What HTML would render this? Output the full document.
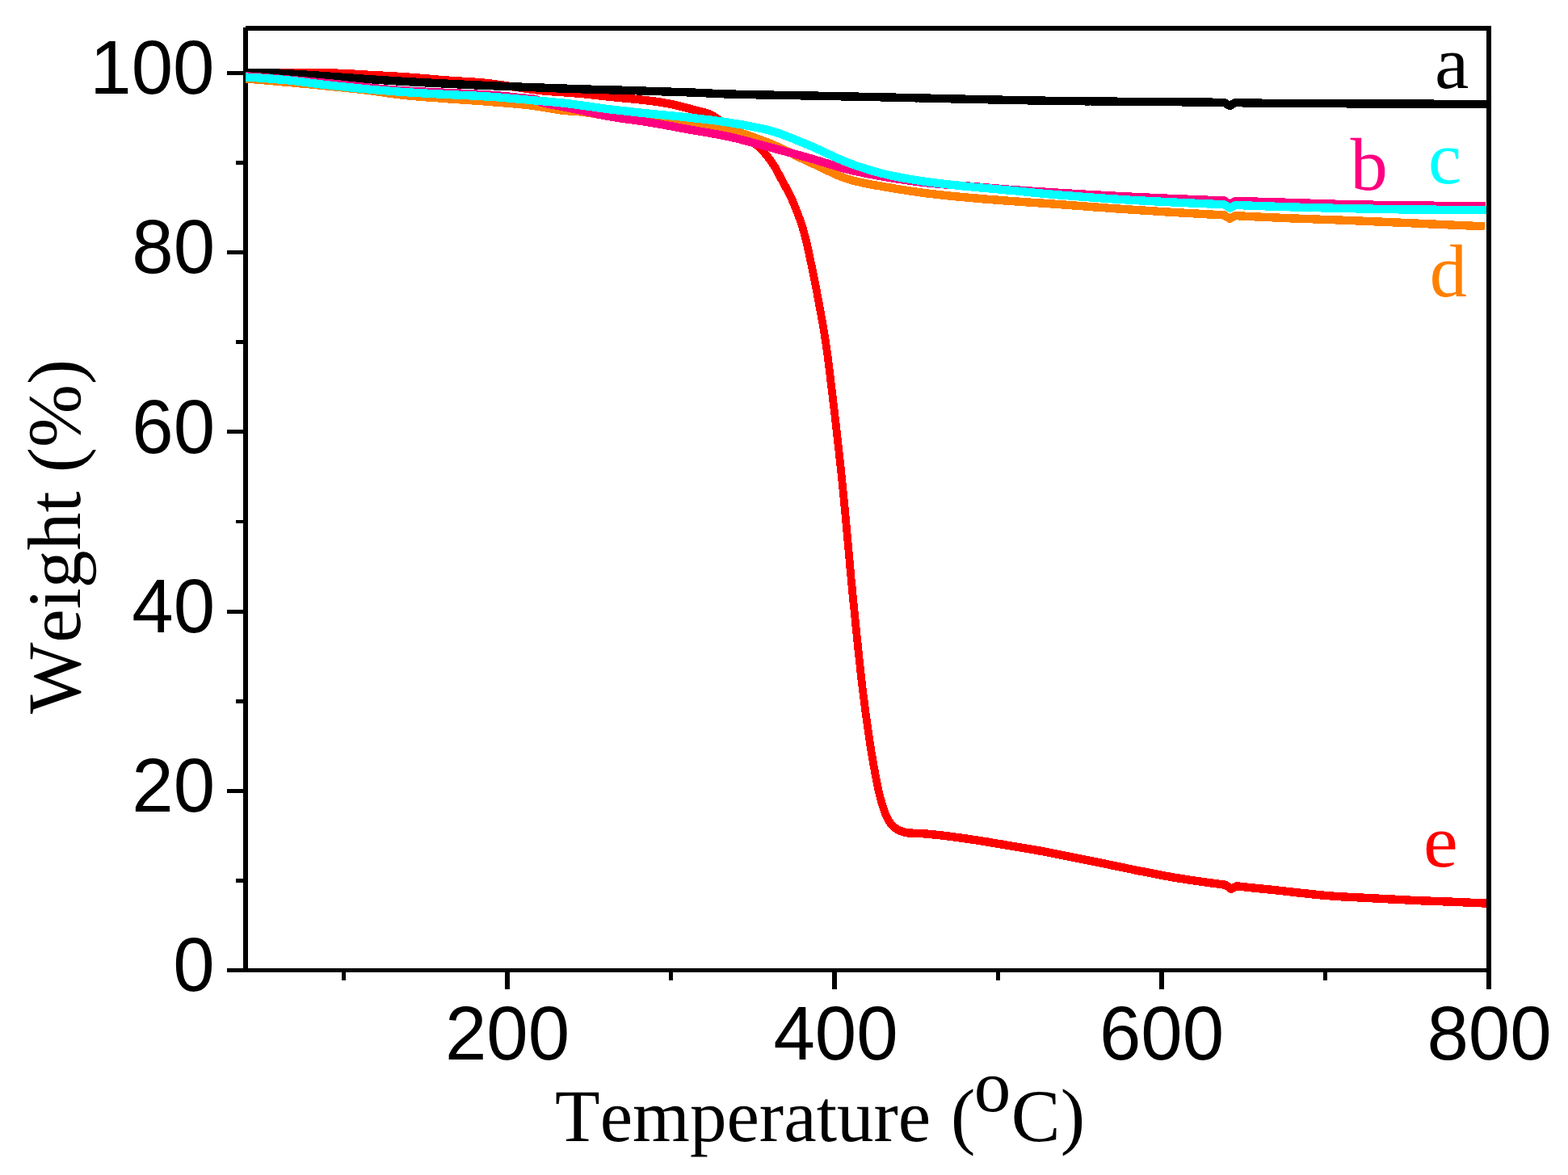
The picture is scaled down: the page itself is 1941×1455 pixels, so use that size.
<!DOCTYPE html>
<html lang="en"><head><meta charset="utf-8"><title>TGA curves</title>
<style>
html,body{margin:0;padding:0;background:#fff;}
body{width:1941px;height:1455px;overflow:hidden;position:relative;}
svg{position:absolute;left:0;top:0;display:block;}
text{font-kerning:none;font-variant-ligatures:none;text-rendering:geometricPrecision;}
.tk{font-family:"Liberation Sans",Arial,sans-serif;}
.ti{font-family:"Liberation Serif","Times New Roman",serif;}
.cv{fill:none;stroke-width:10.4;stroke-linejoin:round;stroke-linecap:butt;}
</style></head><body>
<svg width="1941" height="1455" viewBox="0 0 1941 1455">
<rect x="0" y="0" width="1941" height="1455" fill="#fff"/>

<g fill="#000" shape-rendering="crispEdges">
<rect x="300.90" y="33.90" width="6.00" height="1170.00"/>
<rect x="304.00" y="32.10" width="1542.10" height="5.70"/>
<rect x="300.90" y="1199.10" width="1545.20" height="4.80"/>
<rect x="281.10" y="1199.05" width="20.80" height="4.90"/>
<rect x="292.00" y="1087.94" width="9.90" height="4.90"/>
<rect x="281.10" y="976.84" width="20.80" height="4.90"/>
<rect x="292.00" y="865.73" width="9.90" height="4.90"/>
<rect x="281.10" y="754.63" width="20.80" height="4.90"/>
<rect x="292.00" y="643.52" width="9.90" height="4.90"/>
<rect x="281.10" y="532.42" width="20.80" height="4.90"/>
<rect x="292.00" y="421.31" width="9.90" height="4.90"/>
<rect x="281.10" y="310.21" width="20.80" height="4.90"/>
<rect x="292.00" y="199.10" width="9.90" height="4.90"/>
<rect x="281.10" y="88.00" width="20.80" height="4.90"/>
<rect x="422.55" y="1202.90" width="5.90" height="11.30"/>
<rect x="625.05" y="1202.90" width="5.90" height="22.10"/>
<rect x="827.55" y="1202.90" width="5.90" height="11.30"/>
<rect x="1030.05" y="1202.90" width="5.90" height="22.10"/>
<rect x="1232.55" y="1202.90" width="5.90" height="11.30"/>
<rect x="1435.05" y="1202.90" width="5.90" height="22.10"/>
<rect x="1637.55" y="1202.90" width="5.90" height="11.30"/>
<rect x="1840.05" y="1202.90" width="5.90" height="22.10"/>
</g>
<defs><clipPath id="cp"><rect x="304.0" y="0" width="1536.5" height="1455"/></clipPath></defs>
<g clip-path="url(#cp)"><g class="cv" shape-rendering="crispEdges" transform="scale(0.94,1)">
<path d="M323.4,90.4 L328.2,90.4 L333.1,90.4 L337.9,90.4 L342.7,90.4 L347.5,90.4 L352.4,90.4 L357.2,90.4 L362.0,90.4 L366.8,90.4 L371.7,90.4 L376.5,90.4 L381.3,90.4 L386.2,90.4 L391.0,90.4 L395.8,90.4 L400.6,90.4 L405.5,90.4 L410.3,90.4 L415.1,90.4 L419.9,90.4 L424.8,90.4 L429.6,90.4 L434.4,90.5 L439.2,90.6 L444.1,90.7 L448.9,90.9 L453.7,91.1 L458.5,91.3 L463.3,91.5 L468.2,91.8 L473.0,92.1 L477.8,92.4 L482.6,92.6 L487.4,92.9 L492.3,93.1 L497.1,93.4 L501.9,93.6 L506.7,93.8 L511.5,94.1 L516.4,94.3 L521.2,94.6 L526.0,94.8 L530.8,95.1 L535.6,95.4 L540.4,95.8 L545.3,96.1 L550.1,96.5 L554.9,96.9 L559.7,97.2 L564.5,97.6 L569.3,98.0 L574.1,98.4 L578.9,98.8 L583.7,99.1 L588.5,99.5 L593.4,99.8 L598.2,100.1 L603.0,100.4 L607.8,100.7 L612.6,101.0 L617.5,101.2 L622.3,101.5 L627.1,101.9 L631.9,102.2 L636.7,102.6 L641.5,103.0 L646.3,103.5 L651.1,104.1 L655.9,104.8 L660.6,105.4 L665.4,106.0 L670.2,106.7 L675.0,107.3 L679.8,107.9 L684.6,108.5 L689.3,109.2 L694.1,109.8 L698.9,110.5 L703.7,111.1 L708.5,111.7 L713.2,112.2 L718.0,112.6 L722.8,113.0 L727.7,113.4 L732.5,113.7 L737.3,114.0 L742.1,114.3 L746.9,114.6 L751.7,114.9 L756.6,115.3 L761.4,115.6 L766.2,116.0 L771.0,116.5 L775.8,116.9 L780.6,117.5 L785.4,118.0 L790.2,118.5 L795.0,119.0 L799.8,119.5 L804.6,120.0 L809.4,120.4 L814.2,120.8 L819.0,121.3 L823.8,121.7 L828.6,122.1 L833.4,122.5 L838.2,122.9 L843.0,123.4 L847.8,123.9 L852.6,124.4 L857.4,125.0 L862.2,125.6 L867.0,126.2 L871.7,126.9 L876.5,127.7 L881.2,128.5 L886.0,129.4 L890.7,130.4 L895.3,131.5 L900.0,132.6 L904.7,133.8 L909.4,134.9 L914.1,136.1 L918.8,137.2 L923.5,138.3 L928.2,139.5 L932.7,140.9 L937.1,142.6 L941.2,144.9 L945.2,147.5 L949.2,150.1 L953.4,152.5 L957.6,154.7 L961.8,156.9 L966.0,159.2 L970.1,161.5 L974.3,163.8 L978.3,166.2 L982.3,168.9 L986.1,171.6 L989.9,174.4 L993.7,177.3 L997.3,180.3 L1000.9,183.3 L1004.2,186.6 L1007.4,189.9 L1010.5,193.5 L1013.5,197.1 L1016.3,200.8 L1018.9,204.5 L1021.4,208.4 L1023.7,212.4 L1026.0,216.4 L1028.2,220.5 L1030.5,224.5 L1032.8,228.5 L1035.1,232.4 L1037.5,236.4 L1039.7,240.5 L1041.7,244.6 L1043.7,248.7 L1045.5,252.9 L1047.4,257.1 L1049.2,261.3 L1050.9,265.5 L1052.6,269.8 L1054.2,274.1 L1055.7,278.4 L1057.2,282.7 L1058.5,287.1 L1059.8,291.4 L1061.0,295.8 L1062.2,300.2 L1063.3,304.6 L1064.3,309.1 L1065.3,313.5 L1066.3,318.0 L1067.3,322.4 L1068.3,326.9 L1069.3,331.3 L1070.3,335.7 L1071.3,340.2 L1072.2,344.6 L1073.1,349.1 L1074.1,353.5 L1075.0,358.0 L1075.9,362.5 L1076.7,366.9 L1077.6,371.4 L1078.5,375.8 L1079.4,380.3 L1080.3,384.8 L1081.2,389.2 L1082.0,393.7 L1082.9,398.2 L1083.7,402.6 L1084.5,407.1 L1085.3,411.6 L1086.1,416.1 L1086.8,420.5 L1087.5,425.0 L1088.2,429.5 L1088.9,434.0 L1089.6,438.5 L1090.2,443.0 L1090.8,447.5 L1091.4,452.0 L1092.0,456.5 L1092.6,461.0 L1093.2,465.5 L1093.7,470.0 L1094.3,474.5 L1094.9,479.0 L1095.5,483.5 L1096.1,488.0 L1096.6,492.5 L1097.2,497.0 L1097.8,501.5 L1098.4,506.0 L1098.9,510.6 L1099.5,515.1 L1100.0,519.6 L1100.6,524.1 L1101.1,528.6 L1101.7,533.1 L1102.2,537.6 L1102.8,542.1 L1103.3,546.6 L1103.8,551.1 L1104.4,555.6 L1104.9,560.1 L1105.4,564.7 L1105.9,569.2 L1106.5,573.7 L1107.0,578.2 L1107.5,582.7 L1108.0,587.2 L1108.5,591.7 L1109.0,596.2 L1109.4,600.8 L1109.9,605.3 L1110.4,609.8 L1110.9,614.3 L1111.3,618.8 L1111.8,623.3 L1112.3,627.8 L1112.7,632.4 L1113.2,636.9 L1113.6,641.4 L1114.1,645.9 L1114.5,650.4 L1115.0,654.9 L1115.4,659.5 L1115.8,664.0 L1116.3,668.5 L1116.7,673.0 L1117.2,677.5 L1117.6,682.1 L1118.0,686.6 L1118.4,691.1 L1118.9,695.6 L1119.3,700.1 L1119.7,704.7 L1120.2,709.2 L1120.6,713.7 L1121.0,718.2 L1121.5,722.7 L1122.0,727.2 L1122.4,731.8 L1122.9,736.3 L1123.4,740.8 L1123.8,745.3 L1124.3,749.8 L1124.8,754.3 L1125.3,758.8 L1125.8,763.4 L1126.3,767.9 L1126.7,772.4 L1127.2,776.9 L1127.7,781.4 L1128.2,785.9 L1128.7,790.4 L1129.2,795.0 L1129.7,799.5 L1130.2,804.0 L1130.7,808.5 L1131.2,813.0 L1131.7,817.5 L1132.2,822.0 L1132.7,826.5 L1133.2,831.1 L1133.8,835.6 L1134.3,840.1 L1134.9,844.6 L1135.4,849.1 L1136.0,853.6 L1136.6,858.1 L1137.2,862.6 L1137.8,867.1 L1138.4,871.6 L1139.0,876.1 L1139.7,880.6 L1140.3,885.1 L1141.0,889.6 L1141.7,894.1 L1142.3,898.6 L1143.0,903.1 L1143.7,907.5 L1144.4,912.0 L1145.1,916.5 L1145.8,921.0 L1146.6,925.5 L1147.3,930.0 L1148.1,934.5 L1148.9,938.9 L1149.7,943.4 L1150.6,947.9 L1151.4,952.3 L1152.3,956.8 L1153.1,961.3 L1154.1,965.7 L1155.0,970.2 L1156.0,974.6 L1157.0,979.1 L1158.1,983.5 L1159.3,987.9 L1160.6,992.3 L1161.9,996.6 L1163.4,1000.9 L1165.0,1005.2 L1166.8,1009.5 L1168.8,1013.7 L1171.2,1017.5 L1174.2,1021.2 L1177.7,1024.5 L1181.6,1027.2 L1185.8,1029.0 L1190.5,1030.4 L1195.3,1031.3 L1200.0,1031.6 L1204.9,1031.9 L1209.7,1032.0 L1214.6,1032.2 L1219.4,1032.5 L1224.2,1032.9 L1229.0,1033.4 L1233.8,1033.8 L1238.6,1034.3 L1243.4,1034.8 L1248.2,1035.4 L1253.0,1036.0 L1257.8,1036.6 L1262.5,1037.2 L1267.3,1037.8 L1272.1,1038.5 L1276.9,1039.1 L1281.6,1039.8 L1286.4,1040.5 L1291.2,1041.2 L1296.0,1041.9 L1300.7,1042.6 L1305.5,1043.4 L1310.2,1044.1 L1315.0,1044.9 L1319.8,1045.6 L1324.5,1046.4 L1329.3,1047.2 L1334.0,1047.9 L1338.8,1048.6 L1343.6,1049.4 L1348.3,1050.1 L1353.1,1050.9 L1357.8,1051.6 L1362.6,1052.4 L1367.3,1053.2 L1372.1,1054.0 L1376.8,1054.8 L1381.6,1055.7 L1386.3,1056.6 L1391.0,1057.5 L1395.8,1058.4 L1400.5,1059.3 L1405.2,1060.2 L1410.0,1061.1 L1414.7,1062.0 L1419.4,1062.9 L1424.2,1063.8 L1428.9,1064.7 L1433.6,1065.5 L1438.4,1066.4 L1443.1,1067.3 L1447.8,1068.2 L1452.6,1069.1 L1457.3,1070.0 L1462.0,1071.0 L1466.7,1071.9 L1471.5,1072.8 L1476.2,1073.8 L1480.9,1074.7 L1485.6,1075.6 L1490.4,1076.5 L1495.1,1077.4 L1499.8,1078.3 L1504.6,1079.2 L1509.3,1080.0 L1514.0,1080.9 L1518.8,1081.8 L1523.5,1082.7 L1528.3,1083.5 L1533.0,1084.4 L1537.7,1085.2 L1542.5,1086.0 L1547.2,1086.8 L1552.0,1087.5 L1556.8,1088.2 L1561.5,1088.9 L1566.3,1089.6 L1571.1,1090.3 L1575.9,1090.9 L1580.6,1091.6 L1585.4,1092.2 L1590.2,1092.8 L1595.0,1093.4 L1599.8,1094.0 L1604.6,1094.6 L1609.3,1095.2 L1613.8,1095.7 L1614.1,1095.9 L1618.9,1099.2 L1621.3,1100.8 L1623.7,1099.7 L1628.5,1097.4 L1628.7,1097.3 L1633.3,1097.8 L1638.1,1098.3 L1642.9,1098.8 L1647.7,1099.3 L1652.5,1099.7 L1657.3,1100.2 L1662.1,1100.6 L1666.9,1101.0 L1671.7,1101.5 L1676.5,1101.9 L1681.3,1102.4 L1686.1,1102.9 L1690.9,1103.4 L1695.7,1103.9 L1700.5,1104.5 L1705.3,1105.0 L1710.1,1105.5 L1714.9,1106.0 L1719.7,1106.4 L1724.5,1106.9 L1729.3,1107.4 L1734.1,1107.8 L1738.9,1108.3 L1743.7,1108.7 L1748.5,1109.1 L1753.3,1109.5 L1758.2,1109.8 L1763.0,1110.1 L1767.8,1110.4 L1772.6,1110.6 L1777.4,1110.9 L1782.2,1111.1 L1787.1,1111.3 L1791.9,1111.5 L1796.7,1111.8 L1801.5,1112.0 L1806.3,1112.2 L1811.2,1112.5 L1816.0,1112.7 L1820.8,1112.9 L1825.6,1113.2 L1830.4,1113.4 L1835.3,1113.6 L1840.1,1113.9 L1844.9,1114.1 L1849.7,1114.3 L1854.6,1114.6 L1859.4,1114.8 L1864.2,1115.0 L1869.0,1115.2 L1873.8,1115.4 L1878.7,1115.5 L1883.5,1115.7 L1888.3,1115.9 L1893.1,1116.0 L1898.0,1116.2 L1902.8,1116.4 L1907.6,1116.5 L1912.4,1116.7 L1917.2,1116.9 L1922.1,1117.1 L1926.9,1117.3 L1931.7,1117.5 L1936.5,1117.7 L1941.4,1117.9 L1946.2,1118.1 L1951.0,1118.3 L1955.8,1118.6 L1957.1,1118.6" stroke="#ff0000"/>
<path d="M323.4,97.4 L326.7,97.7 L330.0,97.9 L333.3,98.2 L336.6,98.4 L340.0,98.7 L343.3,98.9 L346.6,99.2 L349.9,99.5 L353.2,99.7 L356.5,100.0 L359.8,100.3 L363.1,100.6 L366.4,100.8 L369.7,101.1 L373.0,101.4 L376.3,101.7 L379.7,101.9 L383.0,102.2 L386.3,102.5 L389.6,102.8 L392.9,103.1 L396.2,103.4 L399.5,103.7 L402.8,103.9 L406.1,104.2 L409.4,104.5 L412.7,104.8 L416.0,105.1 L419.3,105.4 L422.6,105.7 L425.9,106.0 L429.2,106.3 L432.5,106.7 L435.9,107.0 L439.2,107.3 L442.5,107.6 L445.8,107.9 L449.1,108.2 L452.4,108.5 L455.7,108.9 L459.0,109.2 L462.3,109.5 L465.6,109.8 L468.9,110.2 L472.2,110.5 L475.5,110.9 L478.8,111.2 L482.1,111.6 L485.4,112.0 L488.7,112.3 L492.0,112.8 L495.3,113.2 L498.5,113.6 L501.8,114.1 L505.1,114.5 L508.4,115.0 L511.7,115.5 L515.0,115.9 L518.3,116.3 L521.6,116.8 L524.9,117.1 L528.2,117.5 L531.5,117.9 L534.8,118.2 L538.1,118.5 L541.4,118.8 L544.7,119.0 L548.0,119.3 L551.3,119.6 L554.6,119.8 L557.9,120.1 L561.2,120.3 L564.5,120.5 L567.8,120.8 L571.2,121.0 L574.5,121.2 L577.8,121.4 L581.1,121.7 L584.4,121.9 L587.7,122.1 L591.0,122.4 L594.3,122.6 L597.7,122.8 L601.0,123.0 L604.3,123.2 L607.6,123.5 L610.9,123.7 L614.2,123.9 L617.5,124.1 L620.9,124.3 L624.2,124.5 L627.5,124.7 L630.8,124.9 L634.1,125.2 L637.4,125.4 L640.7,125.6 L644.0,125.9 L647.3,126.1 L650.7,126.4 L654.0,126.6 L657.3,126.9 L660.6,127.1 L663.9,127.4 L667.2,127.6 L670.5,127.9 L673.8,128.2 L677.1,128.4 L680.5,128.7 L683.8,129.0 L687.1,129.3 L690.4,129.6 L693.7,130.0 L697.0,130.3 L700.3,130.7 L703.5,131.1 L706.8,131.6 L710.1,132.0 L713.4,132.5 L716.7,133.1 L719.9,133.6 L723.2,134.1 L726.5,134.6 L729.8,135.1 L733.1,135.6 L736.4,136.1 L739.6,136.5 L742.9,136.8 L746.2,137.1 L749.5,137.4 L752.9,137.6 L756.2,137.9 L759.5,138.1 L762.8,138.3 L766.1,138.6 L769.4,139.0 L772.7,139.4 L776.0,139.8 L779.3,140.3 L782.5,140.8 L785.8,141.3 L789.1,141.7 L792.4,142.1 L795.7,142.5 L799.0,142.9 L802.3,143.3 L805.6,143.7 L808.9,144.1 L812.2,144.5 L815.5,144.9 L818.8,145.3 L822.1,145.7 L825.3,146.1 L828.6,146.5 L831.9,146.8 L835.2,147.2 L838.5,147.6 L841.8,148.0 L845.1,148.4 L848.4,148.7 L851.7,149.1 L855.0,149.5 L858.3,149.9 L861.6,150.2 L864.9,150.6 L868.2,151.0 L871.5,151.3 L874.8,151.7 L878.1,152.1 L881.4,152.4 L884.7,152.8 L888.0,153.1 L891.3,153.5 L894.6,153.9 L897.9,154.2 L901.2,154.6 L904.5,154.9 L907.8,155.3 L911.1,155.7 L914.4,156.0 L917.7,156.3 L921.0,156.6 L924.3,157.0 L927.7,157.3 L931.0,157.6 L934.3,157.9 L937.6,158.2 L940.9,158.6 L944.2,158.9 L947.5,159.3 L950.8,159.7 L954.0,160.2 L957.3,160.7 L960.5,161.2 L963.7,161.8 L966.9,162.5 L970.2,163.3 L973.4,164.1 L976.6,165.0 L979.7,165.9 L982.9,166.9 L986.1,167.9 L989.3,168.9 L992.4,170.0 L995.6,171.1 L998.7,172.2 L1001.8,173.3 L1004.9,174.4 L1008.0,175.5 L1011.1,176.6 L1014.2,177.7 L1017.3,178.9 L1020.3,180.1 L1023.4,181.3 L1026.4,182.6 L1029.4,183.9 L1032.4,185.3 L1035.4,186.7 L1038.3,188.0 L1041.3,189.4 L1044.3,190.8 L1047.3,192.3 L1050.3,193.7 L1053.2,195.1 L1056.2,196.4 L1059.2,197.8 L1062.2,199.1 L1065.2,200.4 L1068.3,201.7 L1071.3,203.0 L1074.3,204.4 L1077.3,205.7 L1080.4,207.1 L1083.4,208.4 L1086.4,209.8 L1089.4,211.2 L1092.5,212.5 L1095.5,213.8 L1098.5,215.1 L1101.6,216.4 L1104.6,217.6 L1107.7,218.7 L1110.8,219.8 L1113.9,220.9 L1117.0,221.8 L1120.2,222.7 L1123.3,223.6 L1126.5,224.3 L1129.7,225.0 L1132.9,225.7 L1136.2,226.4 L1139.4,227.0 L1142.7,227.6 L1146.0,228.2 L1149.2,228.8 L1152.5,229.4 L1155.8,229.9 L1159.1,230.4 L1162.4,231.0 L1165.7,231.5 L1169.0,232.0 L1172.2,232.5 L1175.5,233.0 L1178.8,233.6 L1182.1,234.1 L1185.3,234.6 L1188.6,235.1 L1191.9,235.5 L1195.2,236.0 L1198.5,236.5 L1201.8,237.0 L1205.0,237.4 L1208.3,237.8 L1211.6,238.3 L1214.9,238.7 L1218.2,239.1 L1221.5,239.5 L1224.8,239.9 L1228.1,240.2 L1231.4,240.6 L1234.7,241.0 L1238.0,241.3 L1241.3,241.6 L1244.6,242.0 L1247.9,242.3 L1251.2,242.6 L1254.5,242.9 L1257.8,243.2 L1261.1,243.5 L1264.4,243.8 L1267.7,244.1 L1271.0,244.4 L1274.3,244.6 L1277.7,244.9 L1281.0,245.2 L1284.3,245.5 L1287.6,245.7 L1290.9,246.0 L1294.2,246.3 L1297.5,246.5 L1300.8,246.8 L1304.1,247.0 L1307.4,247.3 L1310.7,247.5 L1314.1,247.7 L1317.4,248.0 L1320.7,248.2 L1324.0,248.5 L1327.3,248.7 L1330.6,248.9 L1333.9,249.1 L1337.2,249.4 L1340.6,249.6 L1343.9,249.8 L1347.2,250.0 L1350.5,250.2 L1353.8,250.5 L1357.1,250.7 L1360.4,250.9 L1363.7,251.1 L1367.1,251.3 L1370.4,251.5 L1373.7,251.7 L1377.0,251.9 L1380.3,252.1 L1383.6,252.3 L1386.9,252.6 L1390.3,252.8 L1393.6,253.0 L1396.9,253.2 L1400.2,253.5 L1403.5,253.7 L1406.8,253.9 L1410.1,254.2 L1413.4,254.4 L1416.7,254.6 L1420.1,254.9 L1423.4,255.1 L1426.7,255.3 L1430.0,255.6 L1433.3,255.8 L1436.6,256.0 L1439.9,256.3 L1443.2,256.5 L1446.6,256.7 L1449.9,257.0 L1453.2,257.2 L1456.5,257.4 L1459.8,257.7 L1463.1,257.9 L1466.4,258.1 L1469.7,258.3 L1473.1,258.5 L1476.4,258.8 L1479.7,259.0 L1483.0,259.2 L1486.3,259.4 L1489.6,259.6 L1492.9,259.8 L1496.2,260.0 L1499.6,260.2 L1502.9,260.4 L1506.2,260.6 L1509.5,260.8 L1512.8,261.0 L1516.1,261.2 L1519.4,261.4 L1522.8,261.6 L1526.1,261.8 L1529.4,262.0 L1532.7,262.2 L1536.0,262.4 L1539.3,262.6 L1542.6,262.8 L1546.0,262.9 L1549.3,263.1 L1552.6,263.3 L1555.9,263.5 L1559.2,263.7 L1562.5,263.9 L1565.9,264.0 L1569.2,264.2 L1572.5,264.4 L1575.8,264.6 L1579.1,264.7 L1582.4,264.9 L1585.7,265.1 L1589.1,265.3 L1592.4,265.4 L1595.7,265.6 L1599.0,265.8 L1602.3,265.9 L1605.6,266.1 L1609.0,266.3 L1612.0,266.4 L1612.3,266.6 L1615.6,268.5 L1618.9,270.5 L1619.5,270.8 L1622.2,269.4 L1625.5,267.8 L1626.9,267.1 L1628.9,267.2 L1632.2,267.4 L1635.5,267.6 L1638.8,267.7 L1642.1,267.9 L1645.4,268.0 L1648.8,268.2 L1652.1,268.3 L1655.4,268.5 L1658.7,268.6 L1662.0,268.8 L1665.3,268.9 L1668.7,269.1 L1672.0,269.2 L1675.3,269.3 L1678.6,269.5 L1681.9,269.6 L1685.2,269.7 L1688.6,269.9 L1691.9,270.0 L1695.2,270.1 L1698.5,270.3 L1701.8,270.4 L1705.2,270.5 L1708.5,270.6 L1711.8,270.8 L1715.1,270.9 L1718.4,271.0 L1721.7,271.1 L1725.1,271.2 L1728.4,271.3 L1731.7,271.4 L1735.0,271.6 L1738.3,271.7 L1741.7,271.8 L1745.0,271.9 L1748.3,272.0 L1751.6,272.1 L1754.9,272.2 L1758.3,272.3 L1761.6,272.5 L1764.9,272.6 L1768.2,272.7 L1771.5,272.8 L1774.8,272.9 L1778.2,273.1 L1781.5,273.2 L1784.8,273.3 L1788.1,273.4 L1791.4,273.6 L1794.8,273.7 L1798.1,273.8 L1801.4,274.0 L1804.7,274.1 L1808.0,274.2 L1811.3,274.4 L1814.7,274.5 L1818.0,274.6 L1821.3,274.8 L1824.6,274.9 L1827.9,275.0 L1831.3,275.2 L1834.6,275.3 L1837.9,275.5 L1841.2,275.6 L1844.5,275.7 L1847.8,275.9 L1851.2,276.0 L1854.5,276.2 L1857.8,276.3 L1861.1,276.4 L1864.4,276.6 L1867.7,276.7 L1871.1,276.9 L1874.4,277.0 L1877.7,277.1 L1881.0,277.3 L1884.3,277.4 L1887.7,277.5 L1891.0,277.7 L1894.3,277.8 L1897.6,278.0 L1900.9,278.1 L1904.2,278.2 L1907.6,278.4 L1910.9,278.5 L1914.2,278.7 L1917.5,278.8 L1920.8,278.9 L1924.1,279.1 L1927.5,279.2 L1930.8,279.3 L1934.1,279.5 L1937.4,279.6 L1940.7,279.8 L1944.1,279.9 L1947.4,280.0 L1950.7,280.2 L1954.0,280.3 L1955.1,280.4" stroke="#ff8000"/>
<path d="M323.4,90.2 L326.7,90.2 L330.0,90.2 L333.3,90.2 L336.5,90.2 L339.8,90.2 L343.1,90.2 L346.4,90.2 L349.7,90.3 L353.0,90.3 L356.2,90.3 L359.5,90.3 L362.8,90.4 L366.1,90.6 L369.4,90.7 L372.6,90.9 L375.9,91.1 L379.2,91.3 L382.5,91.4 L385.7,91.6 L389.0,91.8 L392.3,92.0 L395.6,92.2 L398.8,92.4 L402.1,92.6 L405.4,92.8 L408.7,93.0 L411.9,93.2 L415.2,93.4 L418.5,93.6 L421.8,93.9 L425.0,94.1 L428.3,94.3 L431.6,94.5 L434.9,94.7 L438.1,94.9 L441.4,95.1 L444.7,95.4 L448.0,95.6 L451.2,95.8 L454.5,96.0 L457.8,96.2 L461.1,96.5 L464.3,96.7 L467.6,96.9 L470.9,97.1 L474.2,97.4 L477.4,97.6 L480.7,97.8 L484.0,98.0 L487.3,98.2 L490.5,98.4 L493.8,98.6 L497.1,98.8 L500.4,99.0 L503.6,99.2 L506.9,99.4 L510.2,99.6 L513.5,99.8 L516.7,100.0 L520.0,100.2 L523.3,100.4 L526.6,100.6 L529.8,100.8 L533.1,101.0 L536.4,101.1 L539.7,101.3 L543.0,101.5 L546.2,101.6 L549.5,101.8 L552.8,102.0 L556.1,102.1 L559.3,102.3 L562.6,102.4 L565.9,102.6 L569.2,102.8 L572.5,102.9 L575.7,103.1 L579.0,103.2 L582.3,103.4 L585.6,103.5 L588.9,103.7 L592.1,103.8 L595.4,104.0 L598.7,104.1 L602.0,104.3 L605.2,104.4 L608.5,104.6 L611.8,104.7 L615.1,104.9 L618.4,105.0 L621.6,105.2 L624.9,105.3 L628.2,105.5 L631.5,105.6 L634.8,105.7 L638.0,105.9 L641.3,106.0 L644.6,106.1 L647.9,106.2 L651.2,106.4 L654.4,106.5 L657.7,106.6 L661.0,106.7 L664.3,106.9 L667.6,107.0 L670.8,107.1 L674.1,107.2 L677.4,107.3 L680.7,107.4 L684.0,107.5 L687.2,107.7 L690.5,107.8 L693.8,107.9 L697.1,108.0 L700.4,108.1 L703.6,108.2 L706.9,108.4 L710.2,108.5 L713.5,108.6 L716.8,108.7 L720.0,108.9 L723.3,109.0 L726.6,109.1 L729.9,109.2 L733.2,109.3 L736.4,109.4 L739.7,109.5 L743.0,109.6 L746.3,109.7 L749.6,109.8 L752.9,109.9 L756.1,110.0 L759.4,110.1 L762.7,110.2 L766.0,110.3 L769.3,110.4 L772.5,110.5 L775.8,110.6 L779.1,110.7 L782.4,110.7 L785.7,110.8 L788.9,110.9 L792.2,111.0 L795.5,111.1 L798.8,111.2 L802.1,111.3 L805.4,111.4 L808.6,111.5 L811.9,111.6 L815.2,111.6 L818.5,111.7 L821.8,111.8 L825.0,111.9 L828.3,112.0 L831.6,112.1 L834.9,112.2 L838.2,112.3 L841.4,112.4 L844.7,112.5 L848.0,112.6 L851.3,112.7 L854.6,112.8 L857.8,112.9 L861.1,113.0 L864.4,113.1 L867.7,113.2 L871.0,113.3 L874.3,113.4 L877.5,113.5 L880.8,113.6 L884.1,113.7 L887.4,113.8 L890.7,113.9 L893.9,114.0 L897.2,114.1 L900.5,114.2 L903.8,114.3 L907.1,114.4 L910.3,114.5 L913.6,114.6 L916.9,114.8 L920.2,114.9 L923.5,115.1 L926.7,115.2 L930.0,115.3 L933.3,115.5 L936.6,115.6 L939.9,115.8 L943.1,115.9 L946.4,116.0 L949.7,116.2 L953.0,116.3 L956.3,116.4 L959.5,116.5 L962.8,116.5 L966.1,116.6 L969.4,116.7 L972.7,116.8 L975.9,116.9 L979.2,116.9 L982.5,117.0 L985.8,117.1 L989.1,117.1 L992.4,117.2 L995.6,117.3 L998.9,117.3 L1002.2,117.4 L1005.5,117.4 L1008.8,117.5 L1012.0,117.6 L1015.3,117.6 L1018.6,117.7 L1021.9,117.7 L1025.2,117.8 L1028.5,117.8 L1031.7,117.9 L1035.0,117.9 L1038.3,118.0 L1041.6,118.0 L1044.9,118.1 L1048.2,118.2 L1051.4,118.2 L1054.7,118.3 L1058.0,118.3 L1061.3,118.4 L1064.6,118.5 L1067.8,118.5 L1071.1,118.6 L1074.4,118.6 L1077.7,118.7 L1081.0,118.8 L1084.3,118.8 L1087.5,118.9 L1090.8,119.0 L1094.1,119.0 L1097.4,119.1 L1100.7,119.1 L1103.9,119.2 L1107.2,119.3 L1110.5,119.3 L1113.8,119.4 L1117.1,119.5 L1120.4,119.5 L1123.6,119.6 L1126.9,119.6 L1130.2,119.7 L1133.5,119.8 L1136.8,119.8 L1140.0,119.9 L1143.3,120.0 L1146.6,120.0 L1149.9,120.1 L1153.2,120.2 L1156.5,120.2 L1159.7,120.3 L1163.0,120.4 L1166.3,120.4 L1169.6,120.5 L1172.9,120.6 L1176.2,120.6 L1179.4,120.7 L1182.7,120.8 L1186.0,120.8 L1189.3,120.9 L1192.6,121.0 L1195.8,121.0 L1199.1,121.1 L1202.4,121.2 L1205.7,121.3 L1209.0,121.3 L1212.3,121.4 L1215.5,121.5 L1218.8,121.6 L1222.1,121.6 L1225.4,121.7 L1228.7,121.8 L1231.9,121.8 L1235.2,121.9 L1238.5,122.0 L1241.8,122.1 L1245.1,122.1 L1248.3,122.2 L1251.6,122.3 L1254.9,122.4 L1258.2,122.4 L1261.5,122.5 L1264.8,122.6 L1268.0,122.6 L1271.3,122.7 L1274.6,122.8 L1277.9,122.8 L1281.2,122.9 L1284.5,123.0 L1287.7,123.0 L1291.0,123.1 L1294.3,123.2 L1297.6,123.2 L1300.9,123.3 L1304.1,123.4 L1307.4,123.4 L1310.7,123.5 L1314.0,123.6 L1317.3,123.6 L1320.6,123.7 L1323.8,123.8 L1327.1,123.8 L1330.4,123.9 L1333.7,123.9 L1337.0,124.0 L1340.2,124.1 L1343.5,124.1 L1346.8,124.2 L1350.1,124.2 L1353.4,124.3 L1356.7,124.4 L1359.9,124.4 L1363.2,124.5 L1366.5,124.5 L1369.8,124.6 L1373.1,124.6 L1376.3,124.7 L1379.6,124.7 L1382.9,124.8 L1386.2,124.8 L1389.5,124.8 L1392.8,124.9 L1396.0,124.9 L1399.3,125.0 L1402.6,125.0 L1405.9,125.0 L1409.2,125.1 L1412.5,125.1 L1415.7,125.1 L1419.0,125.2 L1422.3,125.2 L1425.6,125.2 L1428.9,125.3 L1432.1,125.3 L1435.4,125.3 L1438.7,125.4 L1442.0,125.4 L1445.3,125.4 L1448.6,125.5 L1451.8,125.5 L1455.1,125.5 L1458.4,125.5 L1461.7,125.6 L1465.0,125.6 L1468.3,125.6 L1471.5,125.7 L1474.8,125.7 L1478.1,125.7 L1481.4,125.7 L1484.7,125.8 L1488.0,125.8 L1491.2,125.8 L1494.5,125.8 L1497.8,125.9 L1501.1,125.9 L1504.4,125.9 L1507.6,125.9 L1510.9,126.0 L1514.2,126.0 L1517.5,126.0 L1520.8,126.0 L1524.1,126.0 L1527.3,126.1 L1530.6,126.1 L1533.9,126.1 L1537.2,126.1 L1540.5,126.1 L1543.8,126.2 L1547.0,126.2 L1550.3,126.2 L1553.6,126.2 L1556.9,126.3 L1560.2,126.3 L1563.5,126.3 L1566.7,126.3 L1570.0,126.4 L1573.3,126.4 L1576.6,126.4 L1579.9,126.5 L1583.1,126.5 L1586.4,126.5 L1589.7,126.6 L1593.0,126.6 L1596.3,126.7 L1599.6,126.7 L1602.8,126.8 L1606.1,126.8 L1609.4,126.9 L1612.0,126.9 L1612.7,127.3 L1616.0,129.1 L1619.3,130.9 L1619.5,131.0 L1622.5,129.4 L1625.8,127.7 L1626.9,127.2 L1629.1,127.2 L1632.4,127.2 L1635.7,127.3 L1638.9,127.4 L1642.2,127.4 L1645.5,127.5 L1648.8,127.5 L1652.1,127.6 L1655.4,127.6 L1658.6,127.6 L1661.9,127.7 L1665.2,127.7 L1668.5,127.8 L1671.8,127.8 L1675.0,127.8 L1678.3,127.9 L1681.6,127.9 L1684.9,127.9 L1688.2,127.9 L1691.5,127.9 L1694.7,128.0 L1698.0,128.0 L1701.3,128.0 L1704.6,128.0 L1707.9,128.0 L1711.2,128.0 L1714.4,128.1 L1717.7,128.1 L1721.0,128.1 L1724.3,128.1 L1727.6,128.1 L1730.9,128.1 L1734.1,128.1 L1737.4,128.1 L1740.7,128.1 L1744.0,128.2 L1747.3,128.2 L1750.5,128.2 L1753.8,128.2 L1757.1,128.2 L1760.4,128.2 L1763.7,128.2 L1767.0,128.2 L1770.2,128.2 L1773.5,128.3 L1776.8,128.3 L1780.1,128.3 L1783.4,128.3 L1786.7,128.3 L1789.9,128.3 L1793.2,128.3 L1796.5,128.3 L1799.8,128.3 L1803.1,128.4 L1806.4,128.4 L1809.6,128.4 L1812.9,128.4 L1816.2,128.4 L1819.5,128.4 L1822.8,128.4 L1826.0,128.4 L1829.3,128.5 L1832.6,128.5 L1835.9,128.5 L1839.2,128.5 L1842.5,128.5 L1845.7,128.5 L1849.0,128.5 L1852.3,128.5 L1855.6,128.5 L1858.9,128.6 L1862.2,128.6 L1865.4,128.6 L1868.7,128.6 L1872.0,128.6 L1875.3,128.6 L1878.6,128.6 L1881.9,128.6 L1885.1,128.6 L1888.4,128.7 L1891.7,128.7 L1895.0,128.7 L1898.3,128.7 L1901.6,128.7 L1904.8,128.7 L1908.1,128.7 L1911.4,128.7 L1914.7,128.7 L1918.0,128.8 L1921.2,128.8 L1924.5,128.8 L1927.8,128.8 L1931.1,128.8 L1934.4,128.8 L1937.7,128.8 L1940.9,128.8 L1944.2,128.8 L1947.5,128.9 L1950.8,128.9 L1954.1,128.9 L1957.4,128.9 L1958.5,128.9" stroke="#000000"/>
<path d="M323.4,94.2 L326.7,94.5 L330.0,94.7 L333.3,95.0 L336.6,95.2 L339.9,95.5 L343.2,95.7 L346.5,96.0 L349.8,96.3 L353.1,96.5 L356.4,96.8 L359.7,97.0 L363.0,97.3 L366.3,97.6 L369.6,97.8 L372.9,98.1 L376.2,98.4 L379.5,98.6 L382.8,98.9 L386.1,99.2 L389.4,99.5 L392.7,99.7 L396.0,100.0 L399.3,100.3 L402.6,100.6 L405.9,100.8 L409.2,101.1 L412.5,101.4 L415.8,101.7 L419.1,102.0 L422.4,102.3 L425.6,102.5 L428.9,102.8 L432.2,103.1 L435.5,103.4 L438.8,103.7 L442.1,104.0 L445.4,104.3 L448.7,104.7 L452.0,105.0 L455.3,105.3 L458.6,105.7 L461.9,106.0 L465.2,106.4 L468.5,106.7 L471.8,107.0 L475.1,107.4 L478.3,107.7 L481.6,108.0 L484.9,108.4 L488.2,108.7 L491.5,109.0 L494.8,109.3 L498.1,109.7 L501.4,110.0 L504.7,110.3 L508.0,110.5 L511.3,110.8 L514.6,111.1 L517.9,111.3 L521.2,111.6 L524.5,111.8 L527.8,112.0 L531.1,112.3 L534.4,112.4 L537.7,112.6 L541.0,112.8 L544.3,113.0 L547.6,113.1 L550.9,113.3 L554.2,113.4 L557.5,113.5 L560.8,113.7 L564.1,113.8 L567.4,114.0 L570.8,114.1 L574.1,114.2 L577.4,114.4 L580.7,114.5 L584.0,114.7 L587.3,114.8 L590.6,115.0 L593.9,115.1 L597.2,115.2 L600.5,115.4 L603.8,115.5 L607.1,115.7 L610.4,115.8 L613.8,116.0 L617.1,116.1 L620.4,116.3 L623.7,116.4 L627.0,116.6 L630.3,116.8 L633.6,116.9 L636.9,117.1 L640.2,117.3 L643.5,117.5 L646.8,117.7 L650.1,118.0 L653.4,118.2 L656.7,118.5 L660.0,118.8 L663.3,119.1 L666.6,119.4 L669.9,119.6 L673.2,120.0 L676.5,120.3 L679.8,120.6 L683.1,120.9 L686.4,121.2 L689.7,121.5 L693.0,121.8 L696.3,122.1 L699.6,122.3 L703.0,122.5 L706.1,123.0 L708.8,124.9 L711.7,126.3 L714.8,127.2 L717.9,128.0 L721.2,128.6 L724.5,129.2 L727.8,129.7 L731.1,130.3 L734.4,130.8 L737.7,131.5 L740.9,132.1 L744.2,132.7 L747.4,133.3 L750.6,133.9 L753.9,134.5 L757.1,135.1 L760.4,135.7 L763.6,136.3 L766.9,137.0 L770.1,137.6 L773.3,138.3 L776.6,139.0 L779.8,139.7 L783.0,140.4 L786.3,141.1 L789.5,141.8 L792.7,142.5 L796.0,143.1 L799.2,143.7 L802.5,144.2 L805.7,144.7 L809.0,145.2 L812.3,145.7 L815.5,146.1 L818.8,146.6 L822.1,147.0 L825.4,147.5 L828.6,147.9 L831.9,148.3 L835.2,148.7 L838.5,149.2 L841.8,149.6 L845.1,150.1 L848.3,150.5 L851.6,151.0 L854.9,151.5 L858.1,152.0 L861.4,152.5 L864.7,153.0 L867.9,153.6 L871.2,154.1 L874.4,154.7 L877.7,155.2 L881.0,155.8 L884.2,156.3 L887.5,156.9 L890.7,157.5 L894.0,158.0 L897.2,158.6 L900.5,159.2 L903.8,159.7 L907.0,160.3 L910.3,160.8 L913.5,161.4 L916.8,161.9 L920.1,162.4 L923.3,162.9 L926.6,163.5 L929.9,164.0 L933.1,164.5 L936.4,165.0 L939.6,165.6 L942.9,166.1 L946.2,166.7 L949.4,167.3 L952.7,167.9 L955.9,168.5 L959.1,169.1 L962.4,169.8 L965.6,170.5 L968.8,171.2 L972.0,171.9 L975.2,172.7 L978.4,173.5 L981.6,174.3 L984.8,175.0 L988.0,175.9 L991.2,176.7 L994.4,177.5 L997.6,178.3 L1000.8,179.1 L1004.0,179.9 L1007.2,180.7 L1010.4,181.5 L1013.6,182.3 L1016.8,183.1 L1020.0,183.9 L1023.2,184.8 L1026.4,185.6 L1029.6,186.4 L1032.8,187.2 L1036.0,188.0 L1039.2,188.8 L1042.4,189.7 L1045.6,190.5 L1048.8,191.3 L1052.0,192.1 L1055.2,193.0 L1058.3,193.8 L1061.5,194.7 L1064.7,195.5 L1067.9,196.3 L1071.1,197.2 L1074.3,198.1 L1077.4,199.0 L1080.6,199.9 L1083.8,200.8 L1087.0,201.7 L1090.1,202.6 L1093.3,203.5 L1096.5,204.4 L1099.6,205.3 L1102.8,206.2 L1106.0,207.1 L1109.2,207.9 L1112.4,208.8 L1115.6,209.5 L1118.8,210.3 L1122.0,211.0 L1125.2,211.7 L1128.4,212.4 L1131.7,213.0 L1134.9,213.7 L1138.1,214.3 L1141.4,214.9 L1144.6,215.5 L1147.9,216.1 L1151.1,216.7 L1154.4,217.3 L1157.7,217.8 L1160.9,218.3 L1164.2,218.9 L1167.5,219.4 L1170.7,219.9 L1174.0,220.4 L1177.3,220.9 L1180.5,221.3 L1183.8,221.8 L1187.1,222.3 L1190.4,222.7 L1193.6,223.2 L1196.9,223.6 L1200.2,224.0 L1203.5,224.4 L1206.8,224.8 L1210.1,225.2 L1213.3,225.6 L1216.6,226.0 L1219.9,226.3 L1223.2,226.6 L1226.5,226.9 L1229.8,227.2 L1233.1,227.5 L1236.4,227.8 L1239.7,228.1 L1243.0,228.3 L1246.3,228.5 L1249.6,228.8 L1252.9,229.0 L1256.2,229.2 L1259.5,229.5 L1262.8,229.7 L1266.1,229.9 L1269.4,230.1 L1272.7,230.4 L1276.0,230.6 L1279.3,230.9 L1282.6,231.1 L1285.9,231.4 L1289.2,231.6 L1292.5,231.9 L1295.8,232.1 L1299.1,232.4 L1302.4,232.7 L1305.7,232.9 L1309.0,233.2 L1312.3,233.4 L1315.6,233.7 L1318.9,234.0 L1322.2,234.2 L1325.5,234.4 L1328.8,234.7 L1332.1,234.9 L1335.4,235.1 L1338.7,235.4 L1342.0,235.6 L1345.3,235.8 L1348.6,236.0 L1351.9,236.2 L1355.2,236.4 L1358.5,236.6 L1361.8,236.9 L1365.1,237.1 L1368.4,237.3 L1371.7,237.4 L1375.0,237.6 L1378.3,237.8 L1381.7,238.0 L1385.0,238.2 L1388.3,238.4 L1391.6,238.6 L1394.9,238.8 L1398.2,239.0 L1401.5,239.1 L1404.8,239.3 L1408.1,239.5 L1411.4,239.7 L1414.7,239.9 L1418.0,240.1 L1421.3,240.2 L1424.6,240.4 L1427.9,240.6 L1431.2,240.8 L1434.5,240.9 L1437.8,241.1 L1441.1,241.3 L1444.4,241.5 L1447.8,241.6 L1451.1,241.8 L1454.4,242.0 L1457.7,242.1 L1461.0,242.3 L1464.3,242.5 L1467.6,242.6 L1470.9,242.8 L1474.2,242.9 L1477.5,243.1 L1480.8,243.3 L1484.1,243.4 L1487.4,243.6 L1490.7,243.7 L1494.0,243.9 L1497.3,244.0 L1500.7,244.2 L1504.0,244.3 L1507.3,244.5 L1510.6,244.6 L1513.9,244.7 L1517.2,244.9 L1520.5,245.0 L1523.8,245.2 L1527.1,245.3 L1530.4,245.4 L1533.7,245.6 L1537.0,245.7 L1540.3,245.8 L1543.6,246.0 L1547.0,246.1 L1550.3,246.2 L1553.6,246.4 L1556.9,246.5 L1560.2,246.6 L1563.5,246.7 L1566.8,246.9 L1570.1,247.0 L1573.4,247.1 L1576.7,247.2 L1580.0,247.4 L1583.3,247.5 L1586.7,247.6 L1590.0,247.7 L1593.3,247.8 L1596.6,247.9 L1599.9,248.0 L1603.2,248.1 L1606.5,248.3 L1609.8,248.4 L1612.0,248.4 L1613.1,249.1 L1616.4,250.9 L1619.5,252.7 L1619.7,252.5 L1623.0,250.8 L1626.4,249.2 L1626.9,248.9 L1629.7,249.0 L1633.0,249.1 L1636.3,249.2 L1639.6,249.3 L1642.9,249.3 L1646.2,249.4 L1649.5,249.5 L1652.8,249.6 L1656.1,249.7 L1659.4,249.8 L1662.8,249.9 L1666.1,250.0 L1669.4,250.1 L1672.7,250.2 L1676.0,250.3 L1679.3,250.4 L1682.6,250.5 L1685.9,250.6 L1689.2,250.6 L1692.5,250.7 L1695.8,250.8 L1699.2,250.9 L1702.5,251.0 L1705.8,251.1 L1709.1,251.2 L1712.4,251.3 L1715.7,251.4 L1719.0,251.5 L1722.3,251.6 L1725.6,251.7 L1728.9,251.8 L1732.2,251.9 L1735.6,252.0 L1738.9,252.1 L1742.2,252.2 L1745.5,252.3 L1748.8,252.4 L1752.1,252.5 L1755.4,252.6 L1758.7,252.7 L1762.0,252.7 L1765.3,252.8 L1768.6,252.9 L1772.0,253.0 L1775.3,253.1 L1778.6,253.1 L1781.9,253.2 L1785.2,253.3 L1788.5,253.3 L1791.8,253.4 L1795.1,253.4 L1798.4,253.5 L1801.7,253.5 L1805.1,253.6 L1808.4,253.7 L1811.7,253.7 L1815.0,253.8 L1818.3,253.8 L1821.6,253.8 L1824.9,253.9 L1828.2,253.9 L1831.5,254.0 L1834.8,254.0 L1838.2,254.1 L1841.5,254.1 L1844.8,254.1 L1848.1,254.2 L1851.4,254.2 L1854.7,254.3 L1858.0,254.3 L1861.3,254.4 L1864.6,254.4 L1867.9,254.4 L1871.3,254.5 L1874.6,254.5 L1877.9,254.6 L1881.2,254.6 L1884.5,254.6 L1887.8,254.7 L1891.1,254.7 L1894.4,254.8 L1897.7,254.8 L1901.1,254.8 L1904.4,254.9 L1907.7,254.9 L1911.0,255.0 L1914.3,255.0 L1917.6,255.0 L1920.9,255.1 L1924.2,255.1 L1927.5,255.1 L1930.8,255.2 L1934.2,255.2 L1937.5,255.3 L1940.8,255.3 L1944.1,255.3 L1947.4,255.4 L1950.7,255.4 L1954.0,255.4 L1956.2,255.5" stroke="#ff0080"/>
<path d="M323.4,95.6 L326.7,95.7 L330.0,95.9 L333.3,96.1 L336.7,96.2 L340.0,96.4 L343.3,96.6 L346.6,96.8 L349.9,97.1 L353.2,97.3 L356.5,97.5 L359.8,97.8 L363.1,98.0 L366.4,98.3 L369.7,98.5 L373.0,98.8 L376.3,99.1 L379.6,99.4 L382.9,99.7 L386.2,100.0 L389.5,100.4 L392.8,100.8 L396.1,101.2 L399.4,101.5 L402.6,102.0 L405.9,102.4 L409.2,102.8 L412.5,103.2 L415.8,103.6 L419.1,104.0 L422.4,104.4 L425.7,104.7 L429.0,105.1 L432.3,105.4 L435.6,105.8 L438.9,106.1 L442.2,106.4 L445.4,106.8 L448.7,107.1 L452.0,107.4 L455.3,107.8 L458.6,108.1 L461.9,108.4 L465.2,108.7 L468.5,109.0 L471.8,109.3 L475.1,109.6 L478.4,109.9 L481.7,110.2 L485.0,110.5 L488.3,110.8 L491.6,111.0 L494.9,111.3 L498.2,111.6 L501.5,111.8 L504.8,112.1 L508.2,112.3 L511.5,112.6 L514.8,112.8 L518.1,113.1 L521.4,113.3 L524.7,113.5 L528.0,113.8 L531.3,114.0 L534.6,114.2 L537.9,114.4 L541.2,114.6 L544.5,114.7 L547.8,114.9 L551.1,115.1 L554.5,115.3 L557.8,115.4 L561.1,115.6 L564.4,115.8 L567.7,115.9 L571.0,116.1 L574.3,116.3 L577.6,116.4 L580.9,116.6 L584.3,116.8 L587.6,116.9 L590.9,117.1 L594.2,117.2 L597.5,117.4 L600.8,117.5 L604.1,117.7 L607.4,117.8 L610.7,118.0 L614.1,118.1 L617.4,118.3 L620.7,118.4 L624.0,118.6 L627.3,118.7 L630.6,118.9 L633.9,119.1 L637.2,119.3 L640.5,119.4 L643.8,119.6 L647.1,119.9 L650.5,120.1 L653.8,120.3 L657.1,120.5 L660.4,120.8 L663.7,121.1 L667.0,121.3 L670.3,121.6 L673.6,121.9 L676.9,122.1 L680.2,122.4 L683.5,122.7 L686.8,123.0 L690.1,123.2 L693.4,123.5 L696.7,123.8 L700.0,124.1 L703.3,124.3 L706.6,124.6 L709.9,124.8 L713.2,125.1 L716.5,125.4 L719.8,125.6 L723.1,125.9 L726.4,126.2 L729.7,126.5 L733.0,126.8 L736.3,127.1 L739.6,127.4 L742.9,127.7 L746.2,128.1 L749.5,128.4 L752.8,128.8 L756.1,129.2 L759.4,129.7 L762.7,130.1 L765.9,130.5 L769.2,130.9 L772.5,131.4 L775.8,131.8 L779.1,132.2 L782.4,132.7 L785.6,133.1 L788.9,133.6 L792.2,134.0 L795.5,134.4 L798.8,134.8 L802.1,135.2 L805.3,135.6 L808.6,135.9 L811.9,136.3 L815.2,136.7 L818.5,137.0 L821.8,137.4 L825.1,137.7 L828.4,138.0 L831.7,138.4 L835.0,138.7 L838.3,139.0 L841.6,139.4 L844.9,139.7 L848.2,140.0 L851.5,140.3 L854.8,140.7 L858.1,141.0 L861.4,141.3 L864.7,141.6 L868.0,141.9 L871.3,142.2 L874.6,142.5 L877.9,142.8 L881.2,143.1 L884.5,143.4 L887.8,143.7 L891.1,144.0 L894.4,144.3 L897.7,144.6 L901.0,144.9 L904.3,145.3 L907.6,145.6 L910.9,145.9 L914.2,146.3 L917.4,146.6 L920.7,147.0 L924.0,147.3 L927.3,147.7 L930.6,148.1 L933.9,148.4 L937.2,148.8 L940.5,149.2 L943.8,149.6 L947.1,150.0 L950.4,150.4 L953.6,150.9 L956.9,151.3 L960.2,151.8 L963.5,152.3 L966.7,152.8 L970.0,153.3 L973.3,153.8 L976.6,154.3 L979.9,154.8 L983.2,155.4 L986.4,156.0 L989.7,156.6 L992.9,157.2 L996.2,157.8 L999.4,158.5 L1002.7,159.1 L1005.9,159.8 L1009.1,160.6 L1012.3,161.3 L1015.4,162.1 L1018.6,163.0 L1021.7,163.9 L1024.9,164.9 L1028.0,165.9 L1031.1,166.9 L1034.2,168.0 L1037.3,169.2 L1040.4,170.3 L1043.5,171.5 L1046.6,172.7 L1049.7,173.9 L1052.7,175.1 L1055.8,176.3 L1058.9,177.5 L1062.0,178.7 L1065.0,179.9 L1068.1,181.1 L1071.1,182.3 L1074.2,183.5 L1077.2,184.8 L1080.2,186.1 L1083.3,187.4 L1086.3,188.7 L1089.3,190.1 L1092.3,191.4 L1095.3,192.7 L1098.3,194.0 L1101.3,195.3 L1104.4,196.6 L1107.4,197.9 L1110.4,199.1 L1113.5,200.3 L1116.6,201.4 L1119.7,202.5 L1122.8,203.6 L1125.9,204.6 L1129.0,205.6 L1132.1,206.6 L1135.3,207.6 L1138.5,208.5 L1141.6,209.5 L1144.8,210.4 L1148.0,211.3 L1151.2,212.2 L1154.4,213.0 L1157.6,213.8 L1160.8,214.6 L1164.0,215.3 L1167.2,216.1 L1170.5,216.8 L1173.7,217.4 L1176.9,218.1 L1180.2,218.7 L1183.4,219.3 L1186.7,219.9 L1189.9,220.5 L1193.2,221.0 L1196.5,221.6 L1199.7,222.1 L1203.0,222.6 L1206.3,223.1 L1209.6,223.6 L1212.9,224.1 L1216.1,224.5 L1219.4,225.0 L1222.7,225.4 L1226.0,225.8 L1229.3,226.2 L1232.6,226.6 L1235.8,227.0 L1239.1,227.4 L1242.4,227.7 L1245.7,228.1 L1249.0,228.4 L1252.3,228.8 L1255.6,229.1 L1258.9,229.4 L1262.2,229.7 L1265.5,230.1 L1268.8,230.4 L1272.1,230.7 L1275.4,231.0 L1278.7,231.3 L1282.0,231.6 L1285.3,231.9 L1288.6,232.2 L1291.9,232.5 L1295.2,232.8 L1298.5,233.1 L1301.8,233.3 L1305.1,233.6 L1308.4,233.9 L1311.7,234.2 L1315.0,234.4 L1318.3,234.7 L1321.6,235.0 L1324.9,235.3 L1328.2,235.5 L1331.5,235.8 L1334.8,236.1 L1338.1,236.4 L1341.4,236.7 L1344.7,237.0 L1348.0,237.3 L1351.3,237.6 L1354.6,238.0 L1357.9,238.3 L1361.2,238.6 L1364.5,238.9 L1367.8,239.2 L1371.1,239.5 L1374.4,239.8 L1377.7,240.1 L1381.0,240.3 L1384.3,240.6 L1387.6,240.9 L1390.9,241.1 L1394.2,241.4 L1397.5,241.6 L1400.8,241.9 L1404.2,242.1 L1407.5,242.4 L1410.8,242.6 L1414.1,242.9 L1417.4,243.1 L1420.7,243.3 L1424.0,243.6 L1427.3,243.8 L1430.6,244.0 L1433.9,244.3 L1437.2,244.5 L1440.5,244.7 L1443.8,244.9 L1447.1,245.2 L1450.4,245.4 L1453.7,245.6 L1457.1,245.8 L1460.4,246.0 L1463.7,246.2 L1467.0,246.4 L1470.3,246.6 L1473.6,246.8 L1476.9,247.0 L1480.2,247.2 L1483.5,247.4 L1486.8,247.6 L1490.1,247.8 L1493.4,247.9 L1496.8,248.1 L1500.1,248.3 L1503.4,248.5 L1506.7,248.6 L1510.0,248.8 L1513.3,249.0 L1516.6,249.1 L1519.9,249.3 L1523.2,249.5 L1526.5,249.6 L1529.9,249.8 L1533.2,249.9 L1536.5,250.1 L1539.8,250.2 L1543.1,250.4 L1546.4,250.5 L1549.7,250.7 L1553.0,250.8 L1556.4,251.0 L1559.7,251.1 L1563.0,251.2 L1566.3,251.4 L1569.6,251.5 L1572.9,251.7 L1576.2,251.8 L1579.5,251.9 L1582.8,252.1 L1586.2,252.2 L1589.5,252.3 L1592.8,252.5 L1596.1,252.6 L1599.4,252.8 L1602.7,252.9 L1606.0,253.0 L1609.3,253.2 L1612.0,253.3 L1612.7,253.6 L1616.0,255.5 L1619.3,257.5 L1619.5,257.6 L1622.6,256.0 L1625.9,254.4 L1626.9,253.9 L1629.2,254.0 L1632.5,254.1 L1635.8,254.2 L1639.2,254.4 L1642.5,254.5 L1645.8,254.6 L1649.1,254.7 L1652.4,254.9 L1655.7,255.0 L1659.0,255.1 L1662.3,255.2 L1665.7,255.3 L1669.0,255.4 L1672.3,255.5 L1675.6,255.6 L1678.9,255.7 L1682.2,255.8 L1685.5,255.9 L1688.8,256.0 L1692.2,256.1 L1695.5,256.2 L1698.8,256.3 L1702.1,256.4 L1705.4,256.5 L1708.7,256.6 L1712.0,256.7 L1715.4,256.7 L1718.7,256.8 L1722.0,256.9 L1725.3,257.0 L1728.6,257.1 L1731.9,257.1 L1735.2,257.2 L1738.6,257.3 L1741.9,257.4 L1745.2,257.5 L1748.5,257.5 L1751.8,257.6 L1755.1,257.7 L1758.4,257.7 L1761.8,257.8 L1765.1,257.9 L1768.4,257.9 L1771.7,258.0 L1775.0,258.1 L1778.3,258.1 L1781.6,258.2 L1785.0,258.3 L1788.3,258.3 L1791.6,258.4 L1794.9,258.4 L1798.2,258.5 L1801.5,258.6 L1804.8,258.6 L1808.2,258.7 L1811.5,258.8 L1814.8,258.8 L1818.1,258.9 L1821.4,258.9 L1824.7,259.0 L1828.0,259.0 L1831.4,259.1 L1834.7,259.2 L1838.0,259.2 L1841.3,259.3 L1844.6,259.3 L1847.9,259.3 L1851.2,259.4 L1854.6,259.4 L1857.9,259.4 L1861.2,259.5 L1864.5,259.5 L1867.8,259.5 L1871.1,259.5 L1874.4,259.6 L1877.8,259.6 L1881.1,259.6 L1884.4,259.6 L1887.7,259.6 L1891.0,259.7 L1894.3,259.7 L1897.7,259.7 L1901.0,259.7 L1904.3,259.7 L1907.6,259.8 L1910.9,259.8 L1914.2,259.8 L1917.5,259.8 L1920.9,259.8 L1924.2,259.8 L1927.5,259.8 L1930.8,259.9 L1934.1,259.9 L1937.4,259.9 L1940.7,259.9 L1944.1,259.9 L1947.4,259.9 L1950.7,259.9 L1954.0,259.9 L1957.3,259.9 L1958.5,259.9" stroke="#00ffff"/>
</g></g>
<g fill="#000" shape-rendering="crispEdges"><rect x="1840.20" y="32.10" width="5.90" height="1192.90"/></g>
<text class="tk" transform="translate(214.20,1227.20) scale(1,1.022)" fill="#000" style="font-size:92.5px">0</text>
<text class="tk" transform="translate(163.20,1004.99) scale(1,1.022)" fill="#000" style="font-size:92.5px">20</text>
<text class="tk" transform="translate(163.20,782.78) scale(1,1.022)" fill="#000" style="font-size:92.5px">40</text>
<text class="tk" transform="translate(163.20,560.57) scale(1,1.022)" fill="#000" style="font-size:92.5px">60</text>
<text class="tk" transform="translate(163.20,338.36) scale(1,1.022)" fill="#000" style="font-size:92.5px">80</text>
<text class="tk" transform="translate(111.20,116.15) scale(1,1.022)" fill="#000" style="font-size:92.5px">100</text>
<text class="tk" transform="translate(550.90,1312.20) scale(1,1.022)" fill="#000" style="font-size:92.5px">200</text>
<text class="tk" transform="translate(957.40,1312.20) scale(1,1.022)" fill="#000" style="font-size:92.5px">400</text>
<text class="tk" transform="translate(1360.90,1312.20) scale(1,1.022)" fill="#000" style="font-size:92.5px">600</text>
<text class="tk" transform="translate(1766.40,1312.20) scale(1,1.022)" fill="#000" style="font-size:92.5px">800</text>
<text class="ti" transform="scale(0.99,1)" fill="#000" style="font-size:92px" xml:space="preserve"><tspan x="693.94" y="1413.00">Temperature </tspan><tspan x="1188.79" y="1412.00">(</tspan><tspan x="1217.98" y="1376.00">o</tspan><tspan x="1264.44" y="1413.20">C</tspan><tspan x="1326.06" y="1412.00">)</tspan></text>
<text class="ti" transform="translate(99.00,884.10) rotate(-90)" fill="#000" style="font-size:93.6px">Weight (%)</text>
<text class="ti" transform="translate(1775.90,109.10) scale(1.03,1)" fill="#000000" style="font-size:92.5px">a</text>
<text class="ti" transform="translate(1671.40,235.20)" fill="#ff0080" style="font-size:92.5px">b</text>
<text class="ti" transform="translate(1767.90,227.20)" fill="#00ffff" style="font-size:92.5px">c</text>
<text class="ti" transform="translate(1769.80,366.90)" fill="#ff8000" style="font-size:92.5px">d</text>
<text class="ti" transform="translate(1761.90,1073.20) scale(1.04,1)" fill="#ff0000" style="font-size:92.5px">e</text>
</svg>
</body></html>
